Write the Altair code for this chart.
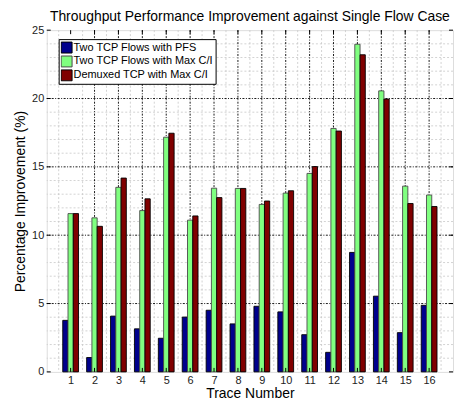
import altair as alt
import pandas as pd

TRACES = list(range(1, 17))
SERIES = ["Two TCP Flows with PFS", "Two TCP Flows with Max C/I", "Demuxed TCP with Max C/I"]
PFS = [3.77, 1.05, 4.08, 3.15, 2.46, 4.01, 4.51, 3.51, 4.80, 4.39, 2.72, 1.43, 8.74, 5.54, 2.87, 4.87]
MAXCI = [11.58, 11.27, 13.50, 11.80, 17.17, 11.10, 13.44, 13.42, 12.25, 13.08, 14.52, 17.81, 23.97, 20.56, 13.59, 12.94]
DEMUX = [11.58, 10.65, 14.18, 12.66, 17.46, 11.41, 12.75, 13.42, 12.50, 13.25, 15.02, 17.62, 23.20, 19.96, 12.32, 12.10]
COLORS = ["#00008c", "#80ff80", "#800000"]
STROKES = ["#000000", "#4a4a4a", "#000000"]

Y_MAJOR = [5, 10, 15, 20]
Y_MINOR = [v for v in range(1, 25) if v % 5]
Y_TICKS = [0, 5, 10, 15, 20, 25]
X_MAJOR = TRACES[1:]
X_MINOR = [t - 0.5 for t in TRACES] + [16.5]

FONT = "Liberation Sans"
W, H = 409, 344

rows = []
for i, (name, vals) in enumerate(zip(SERIES, [PFS, MAXCI, DEMUX])):
    for t, v in zip(TRACES, vals):
        rows.append({"trace": t, "series": name, "idx": i, "value": v})
df = pd.DataFrame(rows)

xs = alt.Scale(domain=[0, 17], nice=False, zero=False)
ys = alt.Scale(domain=[0, 25], nice=False)

XAXIS = alt.Axis(
    values=TRACES, title="Trace Number", grid=False, ticks=False, domain=False,
    labelFontSize=11, labelPadding=3, labelColor="#222222", labelFont=FONT, labelOverlap=False,
    titleFontSize=14, titleFont=FONT, titleFontWeight="normal", titleColor="#000000",
    titlePadding=1)
YAXIS = alt.Axis(
    values=Y_TICKS, title="Percentage Improvement (%)", grid=False, ticks=False, domain=False,
    labelFontSize=11, labelPadding=3, labelColor="#222222", labelFont=FONT, labelOverlap=False,
    titleFontSize=14, titleFont=FONT, titleFontWeight="normal", titleColor="#000000",
    titlePadding=4)


def X(field):
    return alt.X(field, scale=xs, axis=XAXIS, title="Trace Number")


def Y(field):
    return alt.Y(field, scale=ys, axis=YAXIS, title="Percentage Improvement (%)")


minor_h = alt.Chart(pd.DataFrame({"y": Y_MINOR})).mark_rule(
    color="#c8c8c8", strokeDash=[2, 2], strokeWidth=0.8
).encode(y=Y("y:Q"))
minor_v = alt.Chart(pd.DataFrame({"x": X_MINOR})).mark_rule(
    color="#c8c8c8", strokeDash=[2, 2], strokeWidth=0.8
).encode(x=X("x:Q"))
major_h = alt.Chart(pd.DataFrame({"y": Y_MAJOR})).mark_rule(
    color="#000000", strokeDash=[2, 1.5, 1, 1.5], strokeWidth=0.9
).encode(y=Y("y:Q"))
major_v = alt.Chart(pd.DataFrame({"x": X_MAJOR})).mark_rule(
    color="#000000", strokeDash=[2, 1.5, 1, 1.5], strokeWidth=0.9
).encode(x=X("x:Q"))

bars = alt.Chart(df).transform_calculate(
    x0="datum.trace + (datum.idx - 1.5) * 0.22",
    x1="datum.trace + (datum.idx - 0.5) * 0.22",
).mark_bar(strokeWidth=0.9).encode(
    x=X("x0:Q"),
    x2="x1:Q",
    y=Y("value:Q"),
    y2=alt.datum(0),
    fill=alt.Fill("series:N", sort=SERIES, scale=alt.Scale(domain=SERIES, range=COLORS),
                  legend=alt.Legend(title=None, orient="none", legendX=12, legendY=9,
                                    fillColor="#ffffff", strokeColor="#000000", padding=2,
                                    symbolType="square", symbolSize=121, symbolStrokeColor="#000000",
                                    symbolStrokeWidth=1, symbolOpacity=1, labelFontSize=11, labelFont=FONT,
                                    labelColor="#000000", labelOffset=1, rowPadding=1, clipHeight=13)),
    stroke=alt.Stroke("series:N", sort=SERIES, scale=alt.Scale(domain=SERIES, range=STROKES), legend=None),
)

tick_style = dict(color="#000000", strokeWidth=1)
ticks_bottom = alt.Chart(pd.DataFrame({"x": TRACES})).mark_rule(**tick_style).encode(
    x=X("x:Q"), y=alt.value(H), y2=alt.value(H - 4))
ticks_top = alt.Chart(pd.DataFrame({"x": TRACES})).mark_rule(**tick_style).encode(
    x=X("x:Q"), y=alt.value(0), y2=alt.value(4))
ticks_left = alt.Chart(pd.DataFrame({"y": Y_TICKS})).mark_rule(**tick_style).encode(
    y=Y("y:Q"), x=alt.value(0), x2=alt.value(4))
ticks_right = alt.Chart(pd.DataFrame({"y": Y_TICKS})).mark_rule(**tick_style).encode(
    y=Y("y:Q"), x=alt.value(W), x2=alt.value(W - 4))

chart = alt.layer(
    minor_h, minor_v, major_h, major_v, bars, ticks_bottom, ticks_top, ticks_left, ticks_right
).properties(
    width=W, height=H,
    padding={"left": 5, "top": 1, "right": 1, "bottom": 0},
    title=alt.TitleParams("Throughput Performance Improvement against Single Flow Case",
                          fontSize=14, font=FONT, fontWeight="normal", color="#000000",
                          anchor="middle", frame="group", offset=0),
).configure_view(stroke="#000000", strokeWidth=1.5).configure(background="#ffffff")

chart.save("out.html", embed_options={"renderer": "svg", "actions": False})
